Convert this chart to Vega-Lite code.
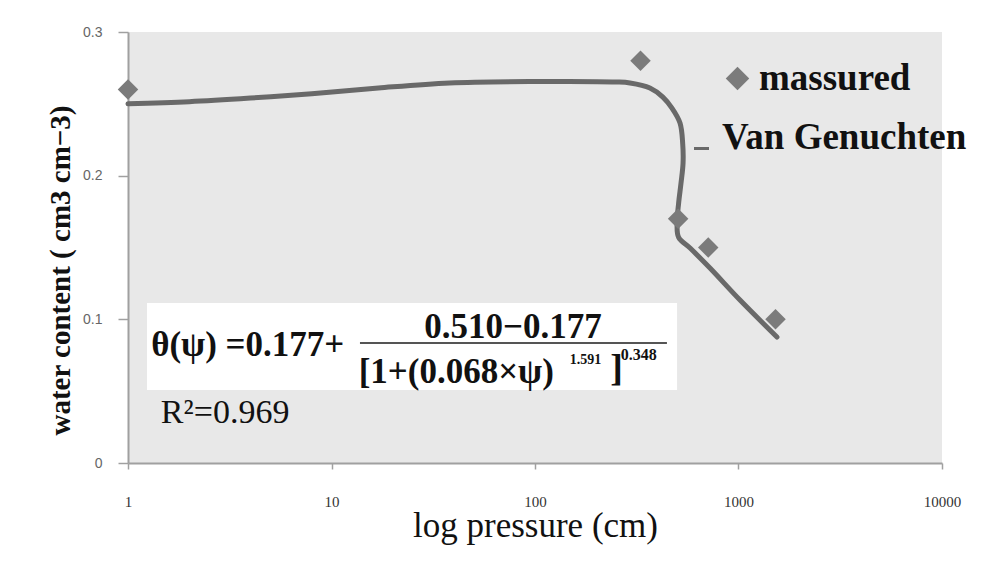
{
  "$schema": "https://vega.github.io/schema/vega-lite/v6.json",
  "width": 814,
  "height": 431,
  "autosize": {"type": "none"},
  "padding": {"left": 128, "top": 32, "right": 44, "bottom": 102},
  "background": "#ffffff",
  "config": {"view": {"fill": "#e8e8e8", "stroke": null}, "font": "Liberation Serif"},
  "datasets": {
    "curve": [
      {"i": 1, "p": 1, "theta": 0.25},
      {"i": 2, "p": 2, "theta": 0.2515},
      {"i": 3, "p": 4, "theta": 0.254},
      {"i": 4, "p": 8, "theta": 0.257},
      {"i": 5, "p": 17, "theta": 0.261},
      {"i": 6, "p": 38, "theta": 0.2645},
      {"i": 7, "p": 100, "theta": 0.2655},
      {"i": 8, "p": 250, "theta": 0.2652},
      {"i": 9, "p": 293, "theta": 0.2645},
      {"i": 10, "p": 367, "theta": 0.261},
      {"i": 11, "p": 425, "theta": 0.2547},
      {"i": 12, "p": 471, "theta": 0.247},
      {"i": 13, "p": 516, "theta": 0.2366},
      {"i": 14, "p": 532, "theta": 0.222},
      {"i": 15, "p": 534, "theta": 0.2088},
      {"i": 16, "p": 522, "theta": 0.195},
      {"i": 17, "p": 508, "theta": 0.181},
      {"i": 18, "p": 499, "theta": 0.167},
      {"i": 19, "p": 508, "theta": 0.157},
      {"i": 20, "p": 578, "theta": 0.1496},
      {"i": 21, "p": 724, "theta": 0.1357},
      {"i": 22, "p": 1017, "theta": 0.1134},
      {"i": 23, "p": 1545, "theta": 0.0877}
    ],
    "measured": [
      {"p": 1, "theta": 0.26},
      {"p": 330, "theta": 0.28},
      {"p": 505, "theta": 0.17},
      {"p": 710, "theta": 0.15},
      {"p": 1520, "theta": 0.1}
    ]
  },
  "layer": [
    {
      "data": {"name": "curve"},
      "transform": [{"calculate": "'Van Genuchten'", "as": "series"}],
      "mark": {"type": "line", "strokeWidth": 5, "interpolate": "catmull-rom", "strokeCap": "round"},
      "encoding": {
        "x": {
          "field": "p", "type": "quantitative",
          "scale": {"type": "log", "domain": [1, 10000]},
          "axis": {
            "title": "log pressure (cm)", "values": [1, 10, 100, 1000, 10000], "format": "d",
            "grid": false, "domainColor": "#a0a0a0", "domainWidth": 2,
            "tickColor": "#a0a0a0", "tickWidth": 1.5, "tickSize": 6,
            "labelFont": "Liberation Serif", "labelFontSize": 15, "labelColor": "#333",
            "labelPadding": 25, "labelFlush": false,
            "titleFont": "Liberation Serif", "titleFontSize": 35, "titleFontWeight": "normal",
            "titleColor": "#111", "titleX": 407, "titleY": 73, "titleBaseline": "alphabetic"
          }
        },
        "y": {
          "field": "theta", "type": "quantitative",
          "scale": {"domain": [0, 0.3], "nice": false},
          "axis": {
            "title": "water content ( cm3 cm−3)", "values": [0, 0.1, 0.2, 0.3], "format": "~g",
            "grid": false, "domainColor": "#a0a0a0", "domainWidth": 2,
            "tickColor": "#a0a0a0", "tickWidth": 1.5, "tickSize": 10,
            "labelFont": "Liberation Sans", "labelFontSize": 14, "labelColor": "#666",
            "labelPadding": 16,
            "titleFont": "Liberation Serif", "titleFontSize": 29, "titleFontWeight": "bold",
            "titleColor": "#111", "titleX": -68, "titleY": 238, "titleAngle": -90,
            "titleAlign": "center", "titleBaseline": "middle"
          }
        },
        "order": {"field": "i"},
        "color": {
          "field": "series", "type": "nominal",
          "scale": {"domain": ["Van Genuchten"], "range": ["#696969"]},
          "legend": {
            "title": null, "orient": "none", "legendX": 555, "legendY": 98,
            "symbolType": "stroke", "symbolSize": 225, "symbolStrokeWidth": 3,
            "symbolStrokeColor": "#555",
            "labelFont": "Liberation Serif", "labelFontSize": 37, "labelFontWeight": "bold",
            "labelColor": "#111", "labelOffset": 2, "labelBaseline": "alphabetic",
            "padding": 0, "labelLimit": 400
          }
        }
      }
    },
    {
      "data": {"values": [{"box": "formula"}]},
      "mark": {"type": "rect", "color": "#ffffff"},
      "encoding": {
        "x": {"datum": 1.24, "type": "quantitative"},
        "x2": {"datum": 499},
        "y": {"datum": 0.1114, "type": "quantitative"},
        "y2": {"datum": 0.0508}
      }
    },
    {
      "data": {"name": "measured"},
      "transform": [{"calculate": "'massured'", "as": "series"}],
      "mark": {"type": "point", "filled": true, "color": "#7b7b7b", "size": 420, "opacity": 1},
      "encoding": {
        "x": {"field": "p", "type": "quantitative"},
        "y": {"field": "theta", "type": "quantitative"},
        "shape": {
          "field": "series", "type": "nominal",
          "scale": {"domain": ["massured"], "range": ["diamond"]},
          "legend": {
            "title": null, "orient": "none", "legendX": 591, "legendY": 28,
            "symbolSize": 550, "symbolFillColor": "#7b7b7b", "symbolStrokeColor": "#7b7b7b",
            "symbolStrokeWidth": 0,
            "labelFont": "Liberation Serif", "labelFontSize": 37, "labelFontWeight": "bold",
            "labelColor": "#111", "labelOffset": 3, "padding": 0, "labelLimit": 400
          }
        }
      }
    },
    {
      "data": {"values": [{"part": "bar"}]},
      "mark": {"type": "rule", "color": "#555", "strokeWidth": 2},
      "encoding": {
        "x": {"datum": 13.8, "type": "quantitative"},
        "x2": {"datum": 445},
        "y": {"datum": 0.0835, "type": "quantitative"}
      }
    },
    {
      "data": {"values": [{"t": "θ(ψ) =0.177+"}]},
      "mark": {"type": "text", "font": "Liberation Serif", "fontSize": 35, "fontWeight": "bold", "align": "left", "baseline": "middle", "color": "#111"},
      "encoding": {
        "x": {"datum": 1.3, "type": "quantitative"},
        "y": {"datum": 0.082, "type": "quantitative"},
        "text": {"field": "t"}
      }
    },
    {
      "data": {"values": [{"t": "0.510−0.177"}]},
      "mark": {"type": "text", "font": "Liberation Serif", "fontSize": 35, "fontWeight": "bold", "align": "center", "baseline": "middle", "color": "#111"},
      "encoding": {
        "x": {"datum": 78, "type": "quantitative"},
        "y": {"datum": 0.095, "type": "quantitative"},
        "text": {"field": "t"}
      }
    },
    {
      "data": {"values": [{"t": "[1+(0.068×ψ)"}]},
      "mark": {"type": "text", "font": "Liberation Serif", "fontSize": 35, "fontWeight": "bold", "align": "left", "baseline": "middle", "color": "#111"},
      "encoding": {
        "x": {"datum": 13.6, "type": "quantitative"},
        "y": {"datum": 0.0635, "type": "quantitative"},
        "text": {"field": "t"}
      }
    },
    {
      "data": {"values": [{"t": "1.591"}]},
      "mark": {"type": "text", "font": "Liberation Serif", "fontSize": 14, "fontWeight": "bold", "align": "left", "baseline": "middle", "color": "#111"},
      "encoding": {
        "x": {"datum": 148, "type": "quantitative"},
        "y": {"datum": 0.0717, "type": "quantitative"},
        "text": {"field": "t"}
      }
    },
    {
      "data": {"values": [{"t": "]"}]},
      "mark": {"type": "text", "font": "Liberation Serif", "fontSize": 38, "fontWeight": "bold", "align": "left", "baseline": "middle", "color": "#111"},
      "encoding": {
        "x": {"datum": 234, "type": "quantitative"},
        "y": {"datum": 0.0645, "type": "quantitative"},
        "text": {"field": "t"}
      }
    },
    {
      "data": {"values": [{"t": "0.348"}]},
      "mark": {"type": "text", "font": "Liberation Serif", "fontSize": 16, "fontWeight": "bold", "align": "left", "baseline": "middle", "color": "#111"},
      "encoding": {
        "x": {"datum": 264, "type": "quantitative"},
        "y": {"datum": 0.0752, "type": "quantitative"},
        "text": {"field": "t"}
      }
    },
    {
      "data": {"values": [{"t": "R²=0.969"}]},
      "mark": {"type": "text", "font": "Liberation Serif", "fontSize": 34, "fontWeight": "normal", "align": "left", "baseline": "middle", "color": "#111"},
      "encoding": {
        "x": {"datum": 1.45, "type": "quantitative"},
        "y": {"datum": 0.0348, "type": "quantitative"},
        "text": {"field": "t"}
      }
    }
  ]
}
